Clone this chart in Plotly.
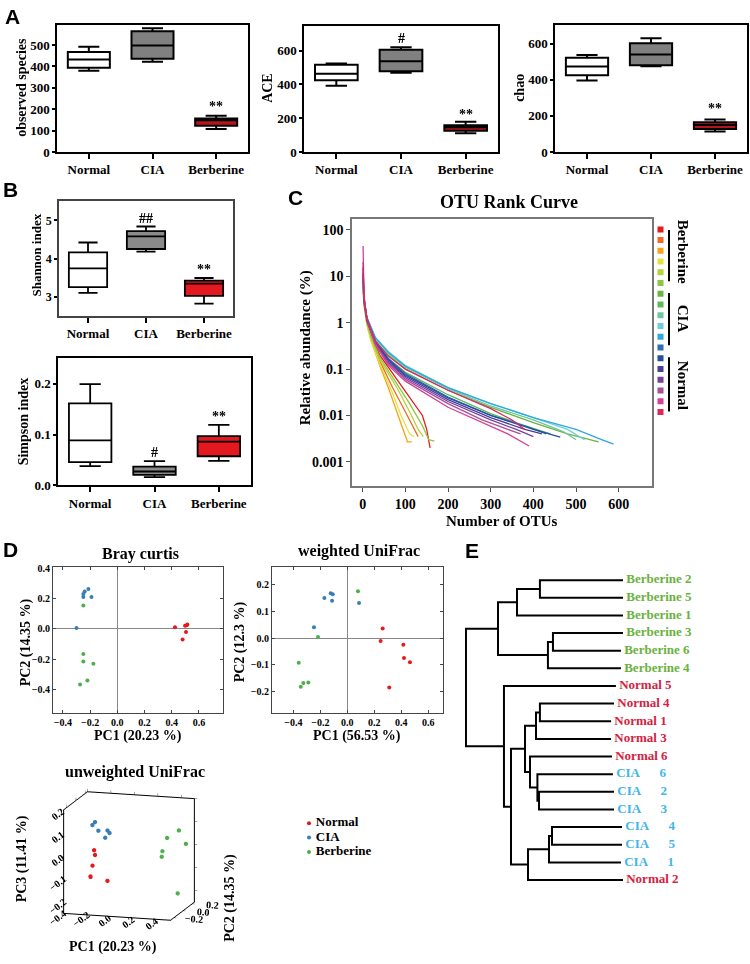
import plotly.graph_objects as go

W, H = 750, 964
SERIF = "Liberation Serif"
SANS = "Liberation Sans"

# ---------------- data ----------------
groups = ["Normal", "CIA", "Berberine"]

# Panel A: observed species (lower whisker, Q1, median, Q3, upper whisker)
obs_lw = [380, 422, 108]
obs_q1 = [394, 436, 123]
obs_med = [433, 498, 148]
obs_q3 = [467, 564, 156]
obs_uw = [492, 578, 170]

ace_lw = [392, 470, 111]
ace_q1 = [425, 478, 126]
ace_med = [464, 538, 146]
ace_q3 = [517, 606, 159]
ace_uw = [524, 621, 179]

chao_lw = [395, 475, 113]
chao_q1 = [424, 480, 127]
chao_med = [473, 540, 149]
chao_q3 = [522, 602, 164]
chao_uw = [536, 629, 180]

# Panel B
shan_lw = [3.10, 4.18, 2.82]
shan_q1 = [3.25, 4.25, 3.02]
shan_med = [3.74, 4.58, 3.34]
shan_q3 = [4.16, 4.72, 3.42]
shan_uw = [4.42, 4.84, 3.49]

simp_lw = [0.0378, 0.0163, 0.0482]
simp_q1 = [0.0456, 0.0208, 0.0573]
simp_med = [0.0886, 0.0274, 0.086]
simp_q3 = [0.161, 0.0371, 0.097]
simp_uw = [0.199, 0.0476, 0.119]

# significance marks: (panel, group, y, text)
sig_marks = [
    (1, "Berberine", 214, "**"),
    (2, "CIA", 674, "#"), (2, "Berberine", 221, "**"),
    (3, "Berberine", 240, "**"),
    (4, "CIA", 5.04, "##"), (4, "Berberine", 3.71, "**"),
    (5, "CIA", 0.064, "#"), (5, "Berberine", 0.135, "**"),
]

# Panel C: OTU rank curves (rank, relative abundance %)
otu_names = ["Berberine 1", "Berberine 2", "Berberine 3", "Berberine 4", "Berberine 5", "Berberine 6",
             "CIA 1", "CIA 2", "CIA 3", "CIA 4", "CIA 5", "CIA 6",
             "Normal 1", "Normal 2", "Normal 3", "Normal 4", "Normal 5", "Normal 6"]
otu_colors = ["#e41a1c", "#ef6a25", "#f6a21c", "#e5e23a", "#b4d334", "#8cc63f",
              "#6db33f", "#5db95d", "#6cc7a0", "#6fcfd8", "#2fa7e0", "#2b6fb8",
              "#2a4c9e", "#4b3f99", "#7a3f9d", "#a6519e", "#d43f97", "#e0245e"]
otu_rank = [
    [1, 3, 10, 20, 40, 80, 110, 140, 150, 158],
    [1, 3, 10, 20, 40, 70, 100, 120, 130],
    [1, 3, 10, 20, 40, 60, 80, 95, 105, 115],
    [1, 3, 10, 20, 40, 70, 90, 110, 120],
    [1, 3, 10, 20, 40, 80, 110, 130, 142],
    [1, 3, 10, 20, 40, 80, 110, 140, 155, 168],
    [1, 3, 10, 30, 60, 100, 200, 300, 400, 480, 553],
    [1, 3, 10, 30, 60, 100, 200, 300, 380, 440],
    [1, 3, 10, 30, 60, 100, 200, 300, 400, 470, 500],
    [1, 3, 10, 30, 60, 100, 200, 300, 400, 480, 520],
    [1, 3, 10, 30, 60, 100, 200, 300, 400, 500, 560, 588],
    [1, 3, 10, 30, 60, 100, 200, 300, 380, 430],
    [1, 3, 10, 30, 60, 100, 200, 300, 400, 463],
    [1, 3, 10, 30, 60, 100, 200, 300, 380, 420],
    [1, 3, 10, 30, 60, 100, 200, 300, 360, 400],
    [1, 3, 10, 30, 60, 100, 200, 280, 340, 370],
    [1, 3, 10, 30, 60, 100, 200, 280, 340, 390],
    [1, 3, 10, 30, 60, 100, 200, 300, 350, 380],
]
otu_abund = [
    [12, 3, 1.1, 0.5, 0.2, 0.06, 0.025, 0.01, 0.005, 0.002],
    [8, 2.8, 1.0, 0.45, 0.15, 0.04, 0.012, 0.005, 0.0035],
    [10, 2.5, 0.9, 0.4, 0.12, 0.04, 0.012, 0.005, 0.0027, 0.0027],
    [6, 2.5, 0.9, 0.4, 0.13, 0.03, 0.01, 0.004, 0.0035],
    [7, 2.6, 1.0, 0.45, 0.16, 0.04, 0.012, 0.005, 0.0035],
    [9, 2.7, 1.0, 0.5, 0.18, 0.05, 0.018, 0.006, 0.003, 0.0028],
    [6, 2.8, 1.2, 0.4, 0.2, 0.1, 0.035, 0.015, 0.007, 0.004, 0.0027],
    [5, 2.6, 1.1, 0.38, 0.17, 0.085, 0.028, 0.011, 0.006, 0.004],
    [7, 3.0, 1.3, 0.45, 0.22, 0.11, 0.038, 0.016, 0.008, 0.0045, 0.003],
    [8, 3.0, 1.3, 0.48, 0.24, 0.12, 0.04, 0.018, 0.009, 0.005, 0.003],
    [6, 3.0, 1.3, 0.47, 0.23, 0.115, 0.04, 0.018, 0.009, 0.005, 0.003, 0.0024],
    [15, 3.5, 1.2, 0.4, 0.17, 0.08, 0.025, 0.01, 0.006, 0.004],
    [10, 3.2, 1.2, 0.38, 0.16, 0.075, 0.024, 0.01, 0.005, 0.0034],
    [12, 3.0, 1.1, 0.36, 0.15, 0.07, 0.022, 0.009, 0.005, 0.004],
    [9, 3.0, 1.1, 0.35, 0.14, 0.065, 0.02, 0.008, 0.005, 0.0035],
    [16, 3.5, 1.2, 0.35, 0.13, 0.06, 0.018, 0.008, 0.005, 0.004],
    [45, 4.0, 1.2, 0.33, 0.12, 0.055, 0.015, 0.007, 0.004, 0.0022],
    [20, 3.5, 1.2, 0.4, 0.19, 0.1, 0.035, 0.014, 0.008, 0.005],
]
# legend order (top to bottom)
legend_colors = ["#e41a1c", "#ef6a25", "#f6a21c", "#e5e23a", "#b4d334", "#8cc63f",
                 "#6db33f", "#5db95d", "#6cc7a0", "#6fcfd8", "#2fa7e0", "#2b6fb8",
                 "#2a4c9e", "#4b3f99", "#7a3f9d", "#a6519e", "#d43f97", "#e0245e"]

# Panel D: PCoA
pc_colors = {"Normal": "#e41a1c", "CIA": "#377eb8", "Berberine": "#4daf4a"}
bray_pc1 = {"Normal": [0.424, 0.498, 0.515, 0.51, 0.505, 0.48],
            "CIA": [-0.213, -0.24, -0.25, -0.25, -0.19, -0.30],
            "Berberine": [-0.25, -0.25, -0.25, -0.176, -0.22, -0.274]}
bray_pc2 = {"Normal": [0.011, 0.02, 0.028, 0.024, -0.02, -0.07],
            "CIA": [0.262, 0.245, 0.23, 0.21, 0.21, 0.006],
            "Berberine": [0.154, -0.165, -0.215, -0.23, -0.34, -0.367]}
wuf_pc1 = {"Normal": [0.262, 0.247, 0.415, 0.42, 0.464, 0.311],
           "CIA": [-0.17, -0.123, -0.108, -0.113, 0.087, -0.247],
           "Berberine": [0.079, -0.217, -0.36, -0.289, -0.326, -0.345]}
wuf_pc2 = {"Normal": [0.036, -0.011, -0.025, -0.075, -0.091, -0.186],
           "CIA": [0.151, 0.168, 0.165, 0.14, 0.132, 0.041],
           "Berberine": [0.176, 0.004, -0.093, -0.167, -0.169, -0.183]}
uuf_pc1 = {"Normal": [-0.18, -0.18, -0.19, -0.215, -0.21, -0.07],
           "CIA": [-0.235, -0.253, -0.21, -0.128, -0.115, -0.148],
           "Berberine": [0.44, 0.34, 0.496, 0.30, 0.29, 0.43]}
uuf_pc2 = {"Normal": [-0.17, -0.15, -0.18, -0.16, -0.17, -0.16],
           "CIA": [-0.01, -0.02, 0.0, -0.01, 0.0, -0.01],
           "Berberine": [0.09, 0.09, 0.10, 0.09, 0.10, 0.09]}
uuf_pc3 = {"Normal": [0.017, -0.007, -0.049, -0.10, -0.10, -0.114],
           "CIA": [0.113, 0.101, 0.075, 0.08, 0.068, 0.048],
           "Berberine": [0.084, 0.048, 0.026, -0.011, -0.037, -0.19]}

# Panel E: dendrogram
leaf_labels = ["Berberine 2", "Berberine 5", "Berberine 1", "Berberine 3", "Berberine 6", "Berberine 4",
               "Normal 5", "Normal 4", "Normal 1", "Normal 3", "Normal 6", "CIA 6",
               "CIA 2", "CIA 3", "CIA 4", "CIA 5", "CIA 1", "Normal 2"]
leaf_depth = [1.0, 1.0, 1.0, 1.0, 0.987, 0.987, 0.955, 0.943, 0.924, 0.924, 0.93, 0.936,
              0.943, 0.943, 0.994, 0.994, 0.987, 1.0]
# merges: (child a, child b, node depth); new node ids start at 18
merges = [
    (0, 1, 0.471), (18, 2, 0.325), (3, 4, 0.554), (20, 5, 0.522), (19, 21, 0.204),
    (7, 8, 0.471), (23, 9, 0.446), (12, 13, 0.465), (11, 25, 0.455), (10, 26, 0.408),
    (24, 27, 0.376), (14, 15, 0.548), (29, 16, 0.529), (30, 17, 0.395), (28, 31, 0.287),
    (6, 32, 0.242), (22, 33, 0.0),
]
leaf_group_colors = {"Berberine": "#6ab23e", "Normal": "#d6213f", "CIA": "#41b6e6"}

# ---------------- helpers ----------------
def dx(a, b):
    return [a / W, b / W]


def dy(top, bottom):
    return [1 - bottom / H, 1 - top / H]


def bfont(size, family=SERIF, color="black"):
    return dict(family=family, size=size, color=color, weight="bold")


fig = go.Figure()
annotations = []
shapes = []


def ann(text, x, y, size, angle=0, family=SERIF, color="black", xanchor="center", yanchor="middle"):
    annotations.append(dict(text=text, x=x / W, y=1 - y / H, xref="paper", yref="paper",
                            showarrow=False, textangle=angle, font=bfont(size, family, color),
                            xanchor=xanchor, yanchor=yanchor))


def box_axes(i, xdom, ydom, yrange, tickvals, ticktext=None, lc="black", tfs=13):
    xa = dict(domain=dx(*xdom), range=[-0.5, 2.5], type="category", categoryorder="array",
              categoryarray=groups, showline=True, mirror=True, linecolor=lc, linewidth=1.5,
              ticks="outside", ticklen=5, tickwidth=1.5, tickcolor="black", tickfont=bfont(13),
              showgrid=False, zeroline=False, anchor=f"y{i}")
    ya = dict(domain=dy(*ydom), range=yrange, showline=True, mirror=True, linecolor=lc, linewidth=1.5,
              ticks="outside", ticklen=3, tickwidth=1.5, tickcolor="black", tickfont=bfont(tfs),
              showgrid=False, zeroline=False, anchor=f"x{i}", tickvals=tickvals,
              ticktext=ticktext if ticktext else [str(v) for v in tickvals])
    fig.update_layout(**{f"xaxis{i}": xa, f"yaxis{i}": ya})


def add_boxes(i, lw, q1, med, q3, uw, fills, width):
    for g, f, a, b, c, d, e in zip(groups, fills, lw, q1, med, q3, uw):
        fig.add_trace(go.Box(x=[g], lowerfence=[a], q1=[b], median=[c], q3=[d], upperfence=[e],
                             fillcolor=f, line=dict(color="black", width=width), whiskerwidth=0.5,
                             width=0.66, boxpoints=False, showlegend=False, hoverinfo="skip",
                             xaxis=f"x{i}", yaxis=f"y{i}"))


fillsA = ["white", "#808080", "#b8141c"]
fillsB = ["white", "#8a8a8a", "#e3191f"]

# ---------------- Panel A ----------------
add_boxes(1, obs_lw, obs_q1, obs_med, obs_q3, obs_uw, fillsA, 2)
add_boxes(2, ace_lw, ace_q1, ace_med, ace_q3, ace_uw, fillsA, 2)
add_boxes(3, chao_lw, chao_q1, chao_med, chao_q3, chao_uw, fillsA, 2)
box_axes(1, (57, 248), (20, 149), [0, 595], [0, 100, 200, 300, 400, 500])
box_axes(2, (304, 498), (21, 149), [0, 748], [0, 200, 400, 600])
box_axes(3, (555, 747), (20, 149), [0, 704], [0, 200, 400, 600])
ann("observed species", 22, 84, 14, -90)
ann("ACE", 268, 84, 14, -90)
ann("chao", 520, 84, 14, -90)

# ---------------- Panel B ----------------
add_boxes(4, shan_lw, shan_q1, shan_med, shan_q3, shan_uw, fillsB, 1.8)
add_boxes(5, simp_lw, simp_q1, simp_med, simp_q3, simp_uw, fillsB, 1.8)
box_axes(4, (59, 233), (199, 315), [2.5, 5.5], [3, 4, 5], lc="#444", tfs=12)
box_axes(5, (58, 251), (358, 487), [0, 0.25], [0, 0.1, 0.2], ["0.0", "0.1", "0.2"])
ann("Shannon index", 37, 254, 13, -90)
ann("Simpson index", 23, 422, 14, -90)

for (i, g, yv, t) in sig_marks:
    annotations.append(dict(text=t, x=g, y=yv, xref=f"x{i}", yref=f"y{i}", showarrow=False,
                            font=bfont(14), xanchor="center", yanchor="middle"))

# ---------------- Panel C ----------------
for name, col, r, a in zip(otu_names, otu_colors, otu_rank, otu_abund):
    fig.add_trace(go.Scatter(x=r, y=a, mode="lines", line=dict(color=col, width=1.3),
                             name=name, showlegend=False, hoverinfo="skip", xaxis="x6", yaxis="y6"))
fig.update_layout(
    xaxis6=dict(domain=dx(352, 652), range=[-25, 678], tickvals=[0, 100, 200, 300, 400, 500, 600],
                showline=True, mirror=True, linecolor="#777", linewidth=1.5, ticks="outside", ticklen=4,
                tickcolor="#555", tickfont=bfont(14), showgrid=False, zeroline=False, anchor="y6"),
    yaxis6=dict(domain=dy(217, 488), type="log", range=[-3.53, 2.234],
                tickvals=[0.001, 0.01, 0.1, 1, 10, 100], ticktext=["0.001", "0.01", "0.1", "1", "10", "100"],
                showline=True, mirror=True, linecolor="#777", linewidth=1.5, ticks="outside", ticklen=4,
                tickcolor="#555", tickfont=bfont(14), showgrid=False, zeroline=False, anchor="x6"),
)
ann("OTU Rank Curve", 509, 200, 18)
ann("Relative abundance (%)", 305, 348, 15, -90)
ann("Number of OTUs", 502, 523, 15)

# legend squares for C
fig.add_trace(go.Scatter(x=[0] * len(legend_colors), y=list(range(len(legend_colors))), mode="markers",
                         marker=dict(symbol="square", size=6, color=legend_colors),
                         showlegend=False, hoverinfo="skip", xaxis="x10", yaxis="y10"))
fig.update_layout(
    xaxis10=dict(domain=dx(655, 666), range=[-1, 1], visible=False, anchor="y10"),
    yaxis10=dict(domain=dy(222, 418), range=[17.5, -0.5], visible=False, anchor="x10"),
)
for (txt, yc, y0, y1) in [("Berberine", 250, 228, 280), ("CIA", 318, 292, 345), ("Normal", 385, 357, 412)]:
    ann(txt, 683, yc, 15, 90)
    shapes.append(dict(type="line", xref="paper", yref="paper", x0=669 / W, x1=669 / W,
                       y0=1 - y0 / H, y1=1 - y1 / H, line=dict(color="black", width=2)))

# ---------------- Panel D ----------------
for g in groups:
    fig.add_trace(go.Scatter(x=bray_pc1[g], y=bray_pc2[g], mode="markers", name=g,
                             marker=dict(size=4, color=pc_colors[g]), showlegend=False,
                             hoverinfo="skip", xaxis="x7", yaxis="y7"))
    fig.add_trace(go.Scatter(x=wuf_pc1[g], y=wuf_pc2[g], mode="markers", name=g,
                             marker=dict(size=4, color=pc_colors[g]), showlegend=False,
                             hoverinfo="skip", xaxis="x8", yaxis="y8"))
    fig.add_trace(go.Scatter3d(x=uuf_pc1[g], y=uuf_pc2[g], z=uuf_pc3[g], mode="markers", name=g,
                               marker=dict(size=2.5, color=pc_colors[g]), showlegend=False,
                               hoverinfo="skip", scene="scene"))

# group key for D
fig.add_trace(go.Scatter(x=[0, 0, 0], y=[0, 1, 2], mode="markers+text",
                         text=["\u00a0" + g for g in groups],
                         textposition="middle right", textfont=bfont(13),
                         marker=dict(size=4, color=[pc_colors[g] for g in groups]),
                         showlegend=False, hoverinfo="skip", xaxis="x11", yaxis="y11"))
fig.update_layout(
    xaxis11=dict(domain=dx(303, 423), range=[-0.1, 1.9], visible=False, anchor="y11"),
    yaxis11=dict(domain=dy(822, 866), range=[2.5, -0.5], visible=False, anchor="x11"),
)


def pc_axes(i, xdom, ydom, xr, yr, xt, yt):
    common = dict(showline=True, mirror="ticks", linecolor="#444", linewidth=1, ticks="inside", ticklen=3,
                  tickcolor="#444", tickfont=bfont(10), showgrid=False, zeroline=True,
                  zerolinecolor="#888", zerolinewidth=1, tickformat=".1f")
    fig.update_layout(**{
        f"xaxis{i}": dict(domain=dx(*xdom), range=xr, tickvals=xt, anchor=f"y{i}", **common),
        f"yaxis{i}": dict(domain=dy(*ydom), range=yr, tickvals=yt, anchor=f"x{i}", **common),
    })


pc_axes(7, (53, 223), (570, 718), [-0.473, 0.777], [-0.556, 0.405],
        [-0.4, -0.2, 0, 0.2, 0.4, 0.6], [-0.4, -0.2, 0, 0.2, 0.4])
pc_axes(8, (272, 443), (570, 718), [-0.558, 0.709], [-0.283, 0.266],
        [-0.4, -0.2, 0, 0.2, 0.4, 0.6], [-0.2, -0.1, 0, 0.1, 0.2])
ann("Bray curtis", 140, 556, 16)
ann("weighted UniFrac", 359, 553, 16)
ann("PC1 (20.23 %)", 138, 741, 14)
ann("PC2 (14.35 %)", 26, 646, 14, -90)
ann("PC1 (56.53 %)", 357, 741, 14)
ann("PC2 (12.3 %)", 240, 646, 14, -90)
ann("unweighted UniFrac", 135, 777, 16)
ann("PC3 (11.41 %)", 22, 866, 14, -90)
ann("PC1 (20.23 %)", 113, 955, 14)
ann("PC2 (14.35 %)", 230, 905, 14, -90)

ax3 = dict(showbackground=False, showgrid=False, showline=True, mirror="all",
           linecolor="black", linewidth=2, zeroline=False, ticks="outside", ticklen=3,
           tickfont=bfont(11), title=dict(text=""), showspikes=False, tickformat=".1f")
fig.update_layout(scene=dict(
    domain=dict(x=[18 / W, 240 / W], y=[14 / H, 1 - 774 / H]),
    xaxis=dict(range=[-0.4, 0.51], tickvals=[-0.4, -0.2, 0, 0.2, 0.4], **ax3),
    yaxis=dict(range=[-0.27, 0.25], tickvals=[-0.2, 0, 0.2], **ax3),
    zaxis=dict(range=[-0.25, 0.2], tickvals=[-0.2, -0.1, 0, 0.1, 0.2], **ax3),
    camera=dict(projection=dict(type="orthographic"), eye=dict(x=0.32, y=-1.1, z=0.26),
                center=dict(x=0, y=0, z=0), up=dict(x=0, y=0, z=1)),
    aspectmode="manual", aspectratio=dict(x=1.28, y=0.98, z=1.22),
))

# ---------------- Panel E ----------------
ypos = {i: float(i) for i in range(len(leaf_labels))}
xpos = {i: leaf_depth[i] for i in range(len(leaf_labels))}
lx, ly = [], []
nid = len(leaf_labels)
for a, b, d in merges:
    ya_, yb_ = ypos[a], ypos[b]
    lx += [xpos[a], d, d, xpos[b], None]
    ly += [ya_, ya_, yb_, yb_, None]
    ypos[nid] = (ya_ + yb_) / 2
    xpos[nid] = d
    nid += 1
fig.add_trace(go.Scatter(x=lx, y=ly, mode="lines", line=dict(color="black", width=2),
                         showlegend=False, hoverinfo="skip", xaxis="x9", yaxis="y9"))
label_txt = []
label_col = []
for lab in leaf_labels:
    grp, num = lab.split(" ")
    if grp == "CIA":
        label_txt.append("\u00a0CIA" + "\u00a0" * 6 + num)
    else:
        label_txt.append("\u00a0" + lab)
    label_col.append(leaf_group_colors[grp])
fig.add_trace(go.Scatter(x=leaf_depth, y=list(range(len(leaf_labels))), mode="text", text=label_txt,
                         textposition="middle right", textfont=dict(family=SERIF, size=13, color=label_col,
                                                                    weight="bold"),
                         showlegend=False, hoverinfo="skip", xaxis="x9", yaxis="y9"))
fig.update_layout(
    xaxis9=dict(domain=dx(460, 750), range=[-0.038, 1.809], visible=False, anchor="y9"),
    yaxis9=dict(domain=dy(570, 900), range=[17.727, -0.727], visible=False, anchor="x9"),
)

# panel letters
for t, x, y in [("A", 12, 12), ("B", 10, 187), ("C", 295, 195), ("D", 10, 552), ("E", 472, 553)]:
    ann(t, x, y, 21, family=SANS)

fig.update_layout(
    width=W, height=H, margin=dict(l=0, r=0, t=0, b=0),
    paper_bgcolor="white", plot_bgcolor="white",
    annotations=annotations, shapes=shapes, showlegend=False,
    boxmode="overlay", hovermode=False,
)

fig.write_html("out.html", config={"displayModeBar": False},
               post_script="document.body.style.margin='0';document.body.style.overflow='hidden';")
